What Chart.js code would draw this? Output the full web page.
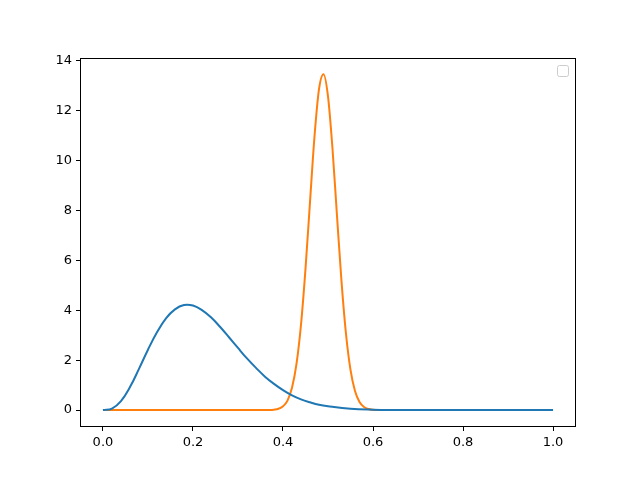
<!DOCTYPE html>
<html>
<head>
<meta charset="utf-8">
<script src="https://cdn.jsdelivr.net/npm/chart.js@4"></script>
<style>
  html, body { margin: 0; padding: 0; background: #fff; }
  #wrap { width: 640px; height: 480px; }
</style>
</head>
<body>
<div id="wrap"><canvas id="betaChart" width="640" height="480"></canvas></div>
<script>
    // 데이터
    const blueX = [0.0, 0.02, 0.04, 0.06, 0.08, 0.10, 0.12, 0.14, 0.16, 0.18, 0.20, 0.22, 0.24, 0.26, 0.28, 0.30,
                   0.32, 0.34, 0.36, 0.38, 0.40, 0.42, 0.44, 0.46, 0.48, 0.50, 0.55, 0.60, 0.65, 0.70, 0.80, 0.90, 1.0];
    const blueY = [0.0, 0.06, 0.36, 0.92, 1.65, 2.42, 3.12, 3.68, 4.04, 4.21, 4.19, 4.01, 3.72, 3.34, 2.92, 2.49,
                   2.07, 1.69, 1.34, 1.05, 0.80, 0.59, 0.43, 0.31, 0.21, 0.15, 0.05, 0.014, 0.003, 0.0, 0.0, 0.0, 0.0];

    const orangeX = [0.0, 0.2, 0.37, 0.38, 0.39, 0.40, 0.41, 0.42, 0.43, 0.44, 0.45, 0.46, 0.47, 0.48, 0.49,
                     0.50, 0.51, 0.52, 0.53, 0.54, 0.55, 0.56, 0.57, 0.58, 0.59, 0.60, 0.61, 0.8, 1.0];
    const orangeY = [0.0, 0.0, 0.0, 0.015, 0.05, 0.15, 0.38, 0.89, 1.85, 3.42, 5.66, 8.34, 10.97, 12.87, 13.47,
                     12.58, 10.48, 7.79, 5.16, 3.05, 1.61, 0.76, 0.32, 0.12, 0.04, 0.01, 0.0, 0.0, 0.0];

    const xTicks = [0.0, 0.2, 0.4, 0.6, 0.8, 1.0];
    const yTicks = [0, 2, 4, 6, 8, 10, 12, 14];

    function toPoints(xs, ys) {
        return xs.map((x, i) => ({ x: x, y: ys[i] }));
    }

    // 테두리와 빈 범례 상자
    const framePlugin = {
        id: 'frame',
        afterDraw(chart) {
            const a = chart.chartArea;
            const ctx = chart.ctx;
            ctx.save();
            ctx.strokeStyle = '#000';
            ctx.lineWidth = 1;
            ctx.strokeRect(Math.round(a.left) + 0.5, Math.round(a.top) + 0.5,
                           Math.round(a.right - a.left) - 1, Math.round(a.bottom - a.top) - 1);
            // 빈 범례
            ctx.strokeStyle = '#cccccc';
            ctx.beginPath();
            ctx.roundRect(Math.round(a.right) - 18.5, Math.round(a.top) + 7.5, 11, 11, 2);
            ctx.stroke();
            ctx.restore();
        }
    };

    const tickFont = { family: 'DejaVu Sans', size: 13 };

    new Chart(document.getElementById('betaChart').getContext('2d'), {
        type: 'line',
        data: {
            datasets: [{
                data: toPoints(blueX, blueY),
                borderColor: '#1f77b4',
                borderWidth: 2,
                pointRadius: 0,
                tension: 0.4,
                fill: false
            }, {
                data: toPoints(orangeX, orangeY),
                borderColor: '#ff7f0e',
                borderWidth: 2,
                pointRadius: 0,
                cubicInterpolationMode: 'monotone',
                fill: false
            }]
        },
        options: {
            responsive: false,
            animation: false,
            layout: { padding: { left: 0, top: 58, right: 64, bottom: 0 } },
            plugins: { legend: { display: false }, tooltip: { enabled: false } },
            scales: {
                x: {
                    type: 'linear',
                    min: -0.051,
                    max: 1.051,
                    afterBuildTicks: s => { s.ticks = xTicks.map(v => ({ value: v })); },
                    afterFit: s => { s.height = 53; },
                    ticks: {
                        color: '#000',
                        font: tickFont,
                        padding: 4,
                        maxRotation: 0,
                        callback: v => v.toFixed(1)
                    },
                    grid: { display: true, drawOnChartArea: false, drawTicks: true, tickLength: 4, color: '#000' },
                    border: { display: false }
                },
                y: {
                    type: 'linear',
                    min: -0.68,
                    max: 14.12,
                    afterBuildTicks: s => { s.ticks = yTicks.map(v => ({ value: v })); },
                    afterFit: s => { s.width = 80; },
                    ticks: {
                        color: '#000',
                        font: tickFont,
                        padding: 4,
                        callback: v => String(v)
                    },
                    grid: { display: true, drawOnChartArea: false, drawTicks: true, tickLength: 4, color: '#000' },
                    border: { display: false }
                }
            }
        },
        plugins: [framePlugin]
    });
</script>
</body>
</html>
